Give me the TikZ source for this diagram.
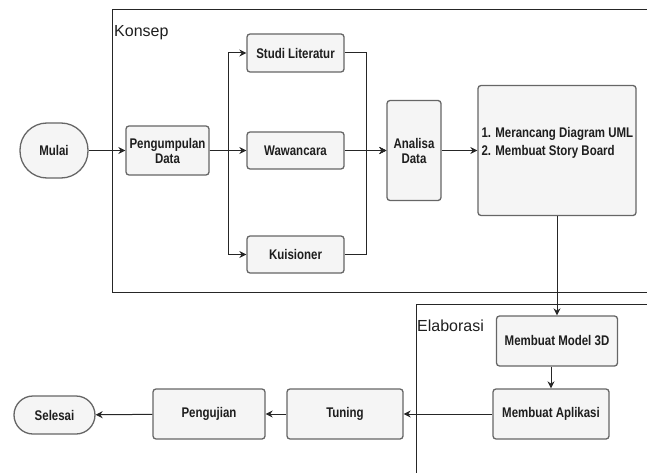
\documentclass[tikz,border=0pt]{standalone}
\usepackage{fontspec}
\setmainfont{Liberation Sans}
\newfontfamily\boxfont[FakeStretch=0.82]{Liberation Sans}
\usetikzlibrary{arrows.meta,calc}
\definecolor{boxfill}{HTML}{F5F5F5}
\definecolor{boxline}{HTML}{666666}
\definecolor{txt}{HTML}{1E1E1E}
\tikzset{
  stepbox/.style={draw=boxline, fill=boxfill, line width=1.3pt, rounded corners=3pt,
    inner sep=0pt, align=center, text=txt,
    font=\boxfont\bfseries\fontsize{14}{15}\selectfont},
  terminal/.style={stepbox, rounded corners=#1},
  conn/.style={draw=black!85, line width=1pt, -{Stealth[length=7pt,width=7pt]}},
  frame/.style={draw=black!85, line width=1pt},
  framelabel/.style={anchor=base west, inner sep=0pt, text=txt, font=\fontsize{16}{18}\selectfont},
}
\begin{document}
\begin{tikzpicture}[x=1pt,y=-1pt]
\useasboundingbox (0,0) rectangle (647,473);
% frames
\draw[frame] (647,10) -- (112,10) -- (112,292) -- (647,292);
\draw[frame] (647,304) -- (416,304) -- (416,473);
\node[framelabel] (konsep) at (114,36.5) {Konsep};
\node[framelabel] (elab) at (417,331) {Elaborasi};
% nodes
\node[terminal=27pt, minimum width=68pt, minimum height=55pt] (mulai) at (54,150.5) {Mulai};
\node[stepbox, minimum width=83pt, minimum height=49pt] (kumpul) at (167.5,150.5) {Pengumpulan\\Data};
\node[stepbox, minimum width=97pt, minimum height=38pt] (studi) at (295.5,53) {Studi Literatur};
\node[stepbox, minimum width=97pt, minimum height=37pt] (wawan) at (295.5,150.5) {Wawancara};
\node[stepbox, minimum width=97pt, minimum height=37pt] (kuis) at (295.5,254.5) {Kuisioner};
\node[stepbox, minimum width=54pt, minimum height=100pt] (analisa) at (414,150.5) {Analisa\\Data};
\node[stepbox, minimum width=158pt, minimum height=130pt] (uml) at (557,150.5) {};
\node[anchor=west, align=left, inner sep=0pt, text=txt,
  font=\boxfont\bfseries\fontsize{14}{18}\selectfont] (umltext) at ($(uml.west)+(4,-8)$)
  {1. Merancang Diagram UML\\2. Membuat Story Board};
\node[stepbox, minimum width=121pt, minimum height=50pt] (model) at (557,341) {Membuat Model 3D};
\node[stepbox, minimum width=116pt, minimum height=50pt] (apl) at (551,414) {Membuat Aplikasi};
\node[stepbox, minimum width=116pt, minimum height=50pt] (tuning) at (345,414) {Tuning};
\node[stepbox, minimum width=112pt, minimum height=50pt] (uji) at (209,414) {Pengujian};
\node[terminal=19pt, minimum width=81pt, minimum height=38pt] (selesai) at (54.5,415) {Selesai};
% connectors
\coordinate (split) at (228,150.5);
\coordinate (join) at (366,150.5);
\draw[conn] (mulai) -- (kumpul);
\draw[conn] (kumpul.east) -- (split) |- (studi.west);
\draw[conn] (kumpul.east) -- (wawan.west);
\draw[conn] (kumpul.east) -- (split) |- (kuis.west);
\draw[conn] (studi.east) -| (join) -- (analisa.west);
\draw[conn] (wawan.east) -- (analisa.west);
\draw[conn] (kuis.east) -| (join) -- (analisa.west);
\draw[conn] (analisa) -- (uml);
\draw[conn] (uml.south) -- (model.north);
\draw[conn] (model.south -| apl.north) -- (apl.north);
\draw[conn] (apl) -- (tuning);
\draw[conn] (tuning) -- (uji);
\draw[conn] (uji) -- (selesai);
\end{tikzpicture}
\end{document}
